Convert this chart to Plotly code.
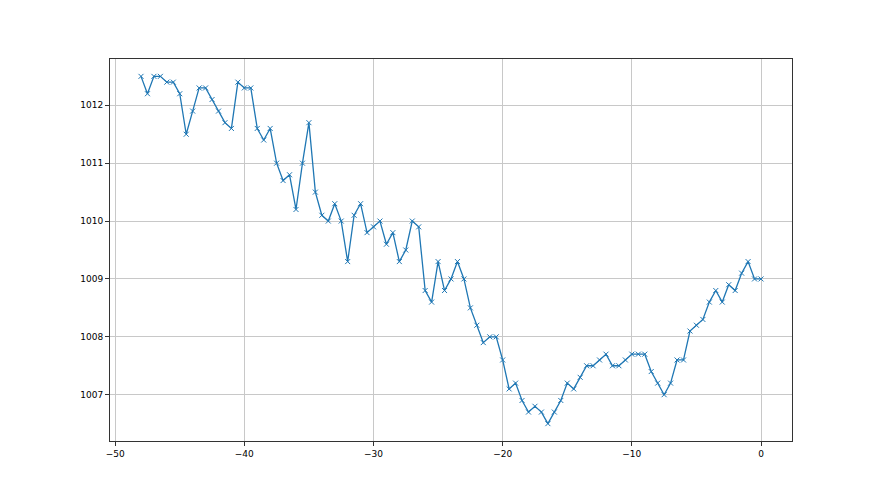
import numpy as np
import plotly.graph_objects as go

hours = [h * 0.5 for h in range(-96, 1)]
pressure = [
    1012.5, 1012.2, 1012.5, 1012.5, 1012.4, 1012.4, 1012.2, 1011.5, 1011.9, 1012.3,
    1012.3, 1012.1, 1011.9, 1011.7, 1011.6, 1012.4, 1012.3, 1012.3, 1011.6, 1011.4,
    1011.6, 1011.0, 1010.7, 1010.8, 1010.2, 1011.0, 1011.7, 1010.5, 1010.1, 1010.0,
    1010.3, 1010.0, 1009.3, 1010.1, 1010.3, 1009.8, 1009.9, 1010.0, 1009.6, 1009.8,
    1009.3, 1009.5, 1010.0, 1009.9, 1008.8, 1008.6, 1009.3, 1008.8, 1009.0, 1009.3,
    1009.0, 1008.5, 1008.2, 1007.9, 1008.0, 1008.0, 1007.6, 1007.1, 1007.2, 1006.9,
    1006.7, 1006.8, 1006.7, 1006.5, 1006.7, 1006.9, 1007.2, 1007.1, 1007.3, 1007.5,
    1007.5, 1007.6, 1007.7, 1007.5, 1007.5, 1007.6, 1007.7, 1007.7, 1007.7, 1007.4,
    1007.2, 1007.0, 1007.2, 1007.6, 1007.6, 1008.1, 1008.2, 1008.3, 1008.6, 1008.8,
    1008.6, 1008.9, 1008.8, 1009.1, 1009.3, 1009.0, 1009.0,
]
x_ticks = [-50, -40, -30, -20, -10, 0]
y_ticks = [1007, 1008, 1009, 1010, 1011, 1012]

fig = go.Figure()
fig.add_trace(go.Scatter(
    x=hours, y=pressure, mode="lines+markers",
    line=dict(color="#1f77b4", width=1.3),
    marker=dict(symbol="x-thin", size=5, color="#1f77b4",
                line=dict(width=1, color="#1f77b4")),
    showlegend=False,
))

axis_common = dict(
    showline=True, linecolor="#333333", linewidth=1, mirror=True,
    ticks="outside", ticklen=4, tickcolor="#333333", tickwidth=1,
    showgrid=True, gridcolor="#c8c8c8", gridwidth=1, zeroline=False,
    tickfont=dict(family="DejaVu Sans", size=9, color="black"),
)
fig.update_xaxes(range=[-50.4, 2.4], tickvals=x_ticks,
                 ticktext=["\u221250", "\u221240", "\u221230", "\u221220", "\u221210", "0"],
                 **axis_common)
fig.update_yaxes(range=[1006.2, 1012.8], tickvals=y_ticks, **axis_common)

fig.update_layout(
    width=880, height=495,
    margin=dict(l=110, r=88, t=59, b=54),
    paper_bgcolor="white", plot_bgcolor="white",
)
fig.write_html("out.html", config={"displayModeBar": False},
               post_script="document.body.style.margin='0';")
